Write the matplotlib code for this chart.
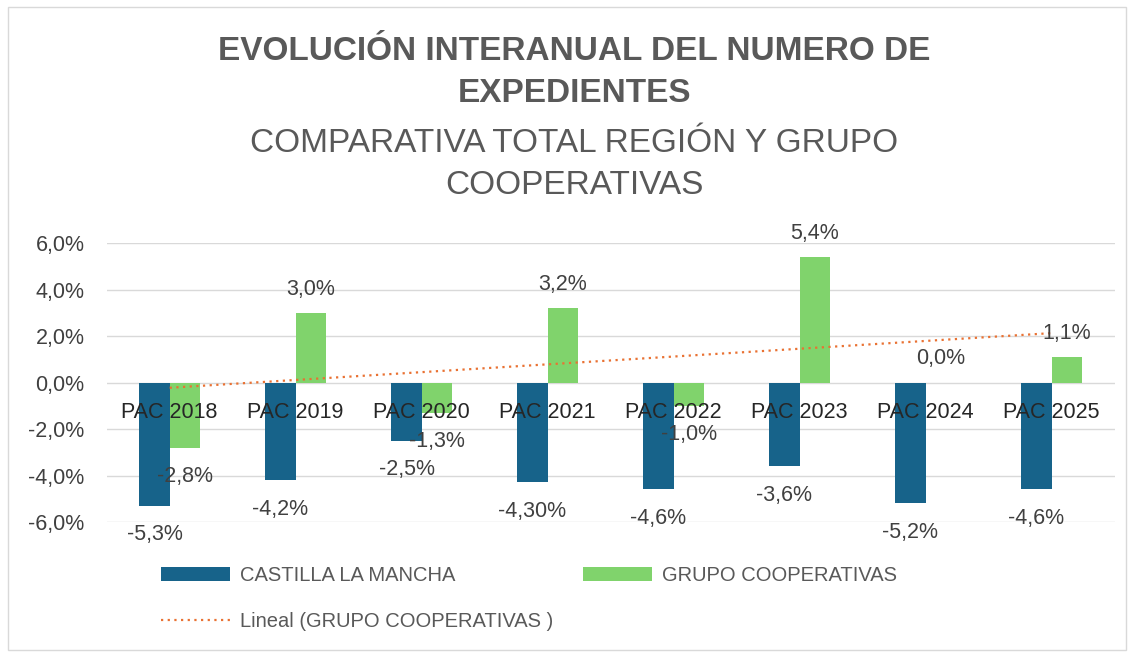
import numpy as np
import matplotlib
matplotlib.use('Agg')
import matplotlib.pyplot as plt
from matplotlib.patches import Rectangle

plt.rcParams['font.family'] = ['Liberation Sans', 'DejaVu Sans']

categories = ['PAC 2018', 'PAC 2019', 'PAC 2020', 'PAC 2021',
              'PAC 2022', 'PAC 2023', 'PAC 2024', 'PAC 2025']
clm = [-5.3, -4.2, -2.5, -4.3, -4.6, -3.6, -5.2, -4.6]
grupo = [-2.8, 3.0, -1.3, 3.2, -1.0, 5.4, 0.0, 1.1]
clm_labels = ['-5,3%', '-4,2%', '-2,5%', '-4,30%', '-4,6%', '-3,6%', '-5,2%', '-4,6%']
grupo_labels = ['-2,8%', '3,0%', '-1,3%', '3,2%', '-1,0%', '5,4%', '0,0%', '1,1%']
yticks = [-6, -4, -2, 0, 2, 4, 6]
ytick_labels = ['-6,0%', '-4,0%', '-2,0%', '0,0%', '2,0%', '4,0%', '6,0%']

c_blue = '#17638A'
c_green = '#80D36C'
c_trend = '#E97132'
c_text = '#404040'
c_title = '#595959'

fig = plt.figure(figsize=(11.35, 6.53), dpi=100)
ax = fig.add_axes([0.094, 0.2006, 0.888, 0.4272])

x = np.arange(len(categories))
w = 0.24
ax.bar(x - w / 2, clm, w, color=c_blue, label='CASTILLA LA MANCHA', zorder=3)
ax.bar(x + w / 2, grupo, w, color=c_green, label='GRUPO COOPERATIVAS', zorder=3)

# linear trendline of the cooperative group
k, b = np.polyfit(x, grupo, 1)
ax.plot(x, k * x + b, color=c_trend, linestyle=(0, (1, 2)), linewidth=1.6,
        label='Lineal (GRUPO COOPERATIVAS )', zorder=4)

for xi, v, t in zip(x, clm, clm_labels):
    ax.annotate(t, (xi - w / 2, v), xytext=(0, -21 if v < 0 else 17),
                textcoords='offset points', ha='center', va='center',
                fontsize=15.5, color=c_text, annotation_clip=False, zorder=6)
for xi, v, t in zip(x, grupo, grupo_labels):
    ax.annotate(t, (xi + w / 2, v), xytext=(0, -21 if v < 0 else 17),
                textcoords='offset points', ha='center', va='center',
                fontsize=15.5, color=c_text, annotation_clip=False, zorder=6)

# category labels sit just under the zero line, on top of the bars
for xi, c in zip(x, categories):
    ax.annotate(c, (xi, 0), xytext=(0, -21.6), textcoords='offset points',
                ha='center', va='center', fontsize=15.5, color='#262626',
                zorder=5)

ax.set_xlim(-0.5, len(categories) - 0.5)
ax.set_ylim(-6, 6)
ax.set_yticks(yticks)
ax.set_yticklabels(ytick_labels, fontsize=15.5, color=c_text)
ax.set_xticks([])
for s in ['top', 'right', 'left', 'bottom']:
    ax.spines[s].set_visible(False)
ax.tick_params(axis='both', length=0)
ax.tick_params(axis='y', pad=16)
ax.grid(axis='y', color='#d9d9d9', linewidth=1, zorder=0)
ax.set_axisbelow(True)

fig.text(0.506, 0.889, 'EVOLUCIÓN INTERANUAL DEL NUMERO DE\nEXPEDIENTES',
         ha='center', va='center', fontsize=24, fontweight='bold',
         color=c_title, linespacing=1.45)
fig.text(0.506, 0.748, 'COMPARATIVA TOTAL REGIÓN Y GRUPO\nCOOPERATIVAS',
         ha='center', va='center', fontsize=24, color=c_title, linespacing=1.45)

handles, labels = ax.get_legend_handles_labels()
order = [1, 0, 2]
leg = fig.legend([handles[i] for i in order], [labels[i] for i in order],
                 loc='upper left', bbox_to_anchor=(0.126, 0.161), ncol=2,
                 frameon=False, handlelength=3.4, handleheight=0.7,
                 columnspacing=1.5, labelspacing=1.35, handletextpad=0.5,
                 prop={'size': 14.5})
for t in leg.get_texts():
    t.set_color(c_title)

fig.patches.append(Rectangle((0.007, 0.005), 0.985, 0.984, transform=fig.transFigure,
                             fill=False, edgecolor='#d9d9d9', linewidth=1))

fig.savefig('out.png', dpi=100)
